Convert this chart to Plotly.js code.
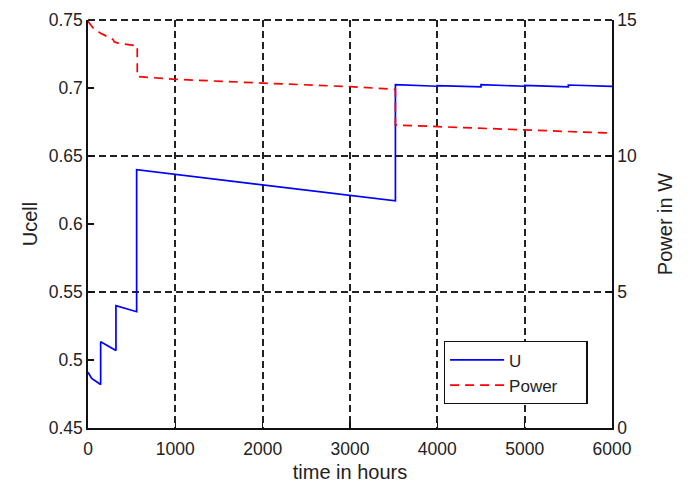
<!DOCTYPE html>
<html><head><meta charset="utf-8">
<script src="https://cdn.plot.ly/plotly-3.0.1.min.js"></script>
<style>html,body{margin:0;padding:0;background:#fff}#c{width:691px;height:485px}</style>
</head><body><div id="c"></div>
<script>
const tU = [0, 15, 42, 145, 145, 320, 320, 557, 557, 3520, 3520, 4000, 4000, 4500, 4500, 5000, 5000, 5500, 5500, 6000];
const uCell = [0.491, 0.489, 0.4865, 0.482, 0.5135, 0.507, 0.540, 0.5355, 0.640, 0.617, 0.7025, 0.7013, 0.7018, 0.7008, 0.7024, 0.7013, 0.7019, 0.7008, 0.7022, 0.7012];
const tP = [0, 60, 150, 286, 300, 343, 540, 564, 564, 1000, 2000, 3000, 3520, 3520, 4000, 4500, 5000, 5500, 6000];
const power = [14.95, 14.7, 14.5, 14.29, 14.2, 14.15, 14.06, 14.05, 12.92, 12.82, 12.68, 12.55, 12.45, 11.14, 11.08, 11.02, 10.95, 10.89, 10.84];
const xTicks = [0, 1000, 2000, 3000, 4000, 5000, 6000];
const yTicks = [0.45, 0.5, 0.55, 0.6, 0.65, 0.7, 0.75];
const y2Ticks = [0, 5, 10, 15];
const seriesNames = ['U', 'Power'];

const fam = 'Liberation Sans, Arial, sans-serif';
const font = {family: fam, size: 17.5, color: '#222'};
const titleFont = {family: fam, size: 20, color: '#222'};
const pad = '\u00a0\u00a0\u00a0\u00a0\u00a0';
const traces = [
  {x: tU, y: uCell, name: seriesNames[0], type: 'scatter', mode: 'lines', line: {color: '#0000ff', width: 1.7}, yaxis: 'y'},
  {x: tP, y: power, name: seriesNames[1] + pad, type: 'scatter', mode: 'lines', line: {color: '#ff0000', width: 1.7, dash: '9px,6px'}, yaxis: 'y2'}
];
const gridDash = '7px,4px';
const layout = {
  width: 691, height: 485,
  margin: {l: 88, r: 79, t: 20, b: 57},
  paper_bgcolor: '#fff', plot_bgcolor: '#fff',
  font: font,
  showlegend: true,
  legend: {x: 0.679, y: 0.213, xanchor: 'left', yanchor: 'top', bordercolor: '#111', borderwidth: 1.3,
           bgcolor: '#fff', font: {family: fam, size: 17, color: '#222'}, itemwidth: 54, tracegroupgap: 0},
  xaxis: {range: [0, 6000], tickvals: xTicks, ticks: 'inside', ticklen: 6, tickcolor: '#111', tickwidth: 1.5,
          showline: true, linecolor: '#111', linewidth: 1.7, zeroline: false, ticklabelstandoff: 4,
          showgrid: true, gridcolor: '#222', griddash: gridDash, gridwidth: 1.8,
          title: {text: 'time in hours', font: titleFont, standoff: 7}},
  yaxis: {range: [0.45, 0.75], tickvals: yTicks, ticks: 'inside', ticklen: 6, tickcolor: '#111', tickwidth: 1.5,
          showline: true, linecolor: '#111', linewidth: 1.7, zeroline: false, showgrid: false,
          title: {text: 'Ucell', font: titleFont, standoff: 6}},
  yaxis2: {range: [0, 15], tickvals: y2Ticks, overlaying: 'y', side: 'right', ticks: 'inside', ticklen: 6, tickcolor: '#111', tickwidth: 1.5,
           showline: true, linecolor: '#111', linewidth: 1.7, zeroline: false,
           showgrid: true, gridcolor: '#222', griddash: gridDash, gridwidth: 1.8,
           title: {text: 'Power in W', font: titleFont, standoff: 22}},
  shapes: [{type: 'line', xref: 'paper', yref: 'paper', x0: 0, x1: 1, y0: 1, y1: 1,
            line: {color: '#222', width: 1.8, dash: gridDash}}]
};
Plotly.newPlot('c', traces, layout, {displayModeBar: false, staticPlot: true});
</script></body></html>
